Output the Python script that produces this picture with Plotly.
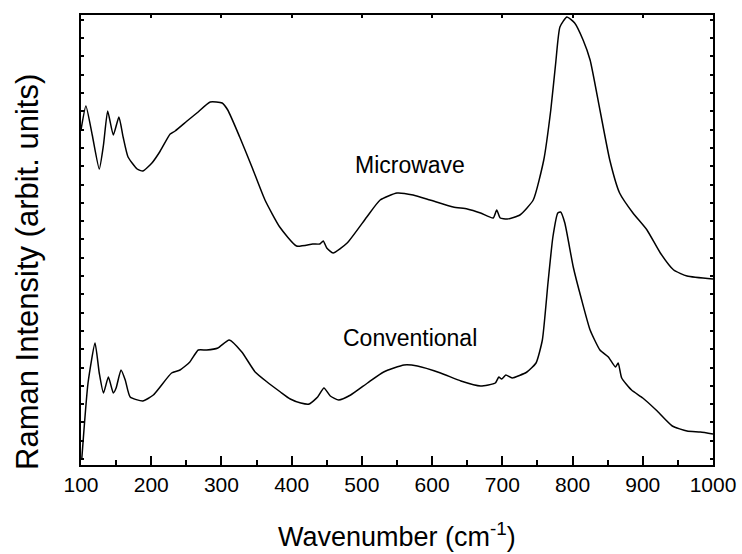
import plotly.graph_objects as go

# Microwave spectrum (wavenumber, intensity in arbitrary units)
mw_x = [100, 107, 116, 126, 132, 138, 146, 154, 160, 167, 180, 188, 201, 212, 227, 234,
        251, 265, 284, 301, 309, 326, 344, 362, 383, 407, 430, 440, 445, 450, 459, 479,
        507, 526, 550, 573, 597, 630, 650, 669, 687, 692, 697, 707, 725, 744, 759, 769,
        776, 782, 792, 803, 815, 825, 839, 853, 867, 886, 906, 925, 944, 963, 1000]
mw_px = [130, 106, 135, 169, 145, 111, 135, 117, 137, 157, 169, 171, 163, 152, 134, 131,
         121, 113, 102, 103, 110, 137, 168, 200, 227, 246, 244, 244, 241, 248, 253, 243,
         217, 200, 193, 195, 200, 207, 209, 213, 218, 210, 218, 219, 215, 200, 160, 110,
         63, 27, 17, 23, 40, 60, 110, 160, 193, 213, 230, 253, 270, 276, 279]
mw_y = [465 - v for v in mw_px]

# Conventional spectrum
cv_x = [101, 110, 120, 126, 132, 139, 146, 150, 157, 163, 170, 188, 203, 229, 241, 255,
        267, 279, 295, 311, 329, 348, 365, 384, 398, 413, 425, 437, 446, 455, 467, 484,
        508, 531, 560, 579, 612, 641, 669, 690, 695, 699, 705, 714, 735, 748, 757, 765,
        772, 779, 783, 789, 801, 813, 825, 839, 851, 861, 865, 870, 884, 900, 919, 942,
        963, 982, 1000]
cv_px = [460, 383, 343, 373, 393, 377, 393, 388, 370, 380, 397, 401, 395, 373, 370, 362,
         350, 350, 348, 340, 352, 372, 382, 392, 399, 403, 404, 397, 388, 396, 400, 395,
         383, 372, 365, 366, 373, 381, 386, 383, 377, 379, 375, 378, 372, 363, 340, 283,
         237, 213, 212, 223, 267, 300, 330, 350, 357, 367, 363, 378, 390, 398, 410, 426,
         431, 432, 434]
cv_y = [465 - v for v in cv_px]

labels = ["Microwave", "Conventional"]
label_x = [568, 568]
label_y = [300, 127]

x_title = "Wavenumber (cm<sup>-1</sup>)"
y_title = "Raman Intensity (arbit. units)"

FONT = "Liberation Sans, Arial, sans-serif"

fig = go.Figure()
fig.add_trace(go.Scatter(x=mw_x, y=mw_y, mode="lines",
                         line=dict(color="black", width=1.5, shape="spline", smoothing=0.5),
                         showlegend=False))
fig.add_trace(go.Scatter(x=cv_x, y=cv_y, mode="lines",
                         line=dict(color="black", width=1.5, shape="spline", smoothing=0.5),
                         showlegend=False))
# invisible trace for top axis
fig.add_trace(go.Scatter(x=[100, 1000], y=[0, 0], xaxis="x2", mode="lines",
                         line=dict(width=0), hoverinfo="skip", showlegend=False))

for t, x, y in zip(labels, label_x, label_y):
    fig.add_annotation(x=x, y=y, text=t, showarrow=False,
                       font=dict(family=FONT, size=23, color="black"))

# axis titles as annotations for exact placement
fig.add_annotation(xref="paper", yref="paper", x=0.5, y=(465 - 535) / 450,
                   text=x_title, showarrow=False, xanchor="center", yanchor="middle",
                   font=dict(family=FONT, size=27, color="black"))
fig.add_annotation(xref="paper", yref="paper", x=(27 - 81) / 632, y=(465 - 272) / 450,
                   text=y_title, showarrow=False, textangle=-90,
                   xanchor="center", yanchor="middle",
                   font=dict(family=FONT, size=31, color="black"))

fig.update_layout(
    width=742, height=554,
    margin=dict(l=81, r=29, t=15, b=89),
    plot_bgcolor="white", paper_bgcolor="white",
    font=dict(family=FONT, color="black"),
    xaxis=dict(range=[100, 1000], showgrid=False, zeroline=False, automargin=False,
               showline=True, linecolor="black", linewidth=2, mirror=True,
               ticks="inside", ticklen=9, tickwidth=2, tickcolor="black",
               tick0=100, dtick=100, tickfont=dict(size=21),
               minor=dict(ticks="inside", ticklen=5, tickwidth=2, dtick=50, tick0=100,
                          tickcolor="black", showgrid=False)),
    xaxis2=dict(range=[100, 1000], overlaying="x", side="top", showgrid=False,
                zeroline=False, showline=False, ticks="inside", ticklen=3,
                tickwidth=2, tickcolor="black", dtick=100, tick0=100, automargin=False,
                showticklabels=False),
    yaxis=dict(range=[0, 450], showgrid=False, zeroline=False, automargin=False,
               showline=True, linecolor="black", linewidth=2, mirror="ticks",
               ticks="inside", ticklen=3, tickwidth=1.5, tickcolor="black",
               tick0=6, dtick=18.3, showticklabels=False),
)

fig.write_html("out.html", config={"displayModeBar": False},
               post_script="document.body.style.margin='0';document.body.style.overflow='hidden';")
